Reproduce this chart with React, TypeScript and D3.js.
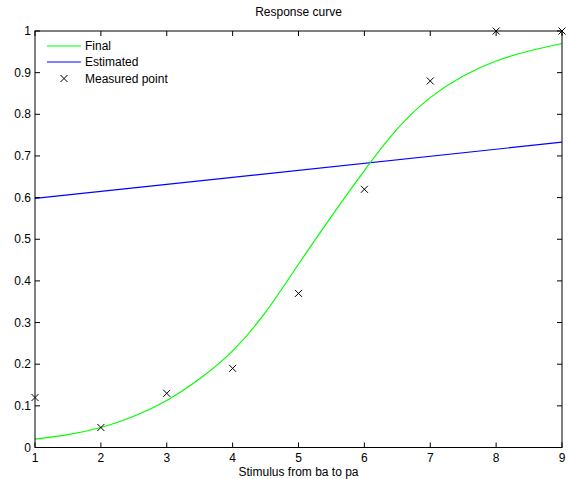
import React from "react";
import * as d3 from "d3";

const finalX = [1, 1.5, 2, 2.5, 3, 3.5, 4, 4.5, 5, 5.5, 6, 6.5, 7, 7.5, 8, 8.5, 9];
const finalY = [0.02, 0.031, 0.048, 0.075, 0.113, 0.165, 0.232, 0.325, 0.44, 0.555, 0.665, 0.765, 0.84, 0.892, 0.928, 0.952, 0.97];
const estX = [1, 9];
const estY = [0.598, 0.733];
const measX = [1, 2, 3, 4, 5, 6, 7, 8, 9];
const measY = [0.12, 0.048, 0.13, 0.19, 0.37, 0.62, 0.88, 1.0, 1.0];
const xTicks = [1, 2, 3, 4, 5, 6, 7, 8, 9];
const yTicks = [0, 0.1, 0.2, 0.3, 0.4, 0.5, 0.6, 0.7, 0.8, 0.9, 1];
const yTickLabels = ["0", "0.1", "0.2", "0.3", "0.4", "0.5", "0.6", "0.7", "0.8", "0.9", "1"];
const legendLabels = ["Final", "Estimated", "Measured point"];

export default function App() {
  const W = 568, H = 479;
  const L = 35, R = 562, T = 31, B = 447.5;
  const x = d3.scaleLinear().domain([1, 9]).range([L, R]);
  const y = d3.scaleLinear().domain([0, 1]).range([B, T]);
  const line = d3.line<[number, number]>().x(d => x(d[0])).y(d => y(d[1])).curve(d3.curveNatural);
  const finalPath = line(finalX.map((v, i) => [v, finalY[i]]))!;
  const estPath = d3.line<[number, number]>().x(d => x(d[0])).y(d => y(d[1]))(estX.map((v, i) => [v, estY[i]]))!;
  const font = "Liberation Sans, Arial, sans-serif";
  const tk = 5;
  const fs = 12;
  const cross = (cx: number, cy: number, k: string) => (
    <g key={k} stroke="#000" strokeWidth={1}>
      <line x1={cx - 3.5} y1={cy - 3.5} x2={cx + 3.5} y2={cy + 3.5} />
      <line x1={cx - 3.5} y1={cy + 3.5} x2={cx + 3.5} y2={cy - 3.5} />
    </g>
  );
  return (
    <svg width={W} height={H} style={{ position: "absolute", left: 0, top: 0, background: "#fff" }} fontFamily={font}>
      <rect width={W} height={H} fill="#fff" />
      <text x={(L + R) / 2} y={16} textAnchor="middle" fontSize={fs}>Response curve</text>
      <text x={(L + R) / 2} y={476} textAnchor="middle" fontSize={fs}>Stimulus from ba to pa</text>
      <path d={estPath} fill="none" stroke="#0000ff" strokeWidth={1.2} />
      <path d={finalPath} fill="none" stroke="#00ff00" strokeWidth={1.2} />
      {measX.map((v, i) => cross(x(v), y(measY[i]), "m" + i))}
      <rect x={L} y={T} width={R - L} height={B - T} fill="none" stroke="#000" strokeWidth={1} />
      {xTicks.map((t) => (
        <g key={"xt" + t}>
          <line x1={x(t)} x2={x(t)} y1={B} y2={B - tk} stroke="#000" />
          <line x1={x(t)} x2={x(t)} y1={T} y2={T + tk} stroke="#000" />
          <text x={x(t)} y={462} textAnchor="middle" fontSize={fs}>{t}</text>
        </g>
      ))}
      {yTicks.map((t, i) => (
        <g key={"yt" + i}>
          <line x1={L} x2={L + tk} y1={y(t)} y2={y(t)} stroke="#000" />
          <line x1={R} x2={R - tk} y1={y(t)} y2={y(t)} stroke="#000" />
          <text x={L - 4} y={y(t) + 4} textAnchor="end" fontSize={fs}>{yTickLabels[i]}</text>
        </g>
      ))}
      <g fontSize={fs}>
        <line x1={47} x2={81} y1={46} y2={46} stroke="#00ff00" strokeWidth={1.2} />
        <text x={85} y={50}>{legendLabels[0]}</text>
        <line x1={47} x2={81} y1={62} y2={62} stroke="#0000ff" strokeWidth={1.2} />
        <text x={85} y={66}>{legendLabels[1]}</text>
        {cross(64, 78.5, "lg")}
        <text x={85} y={83}>{legendLabels[2]}</text>
      </g>
    </svg>
  );
}
